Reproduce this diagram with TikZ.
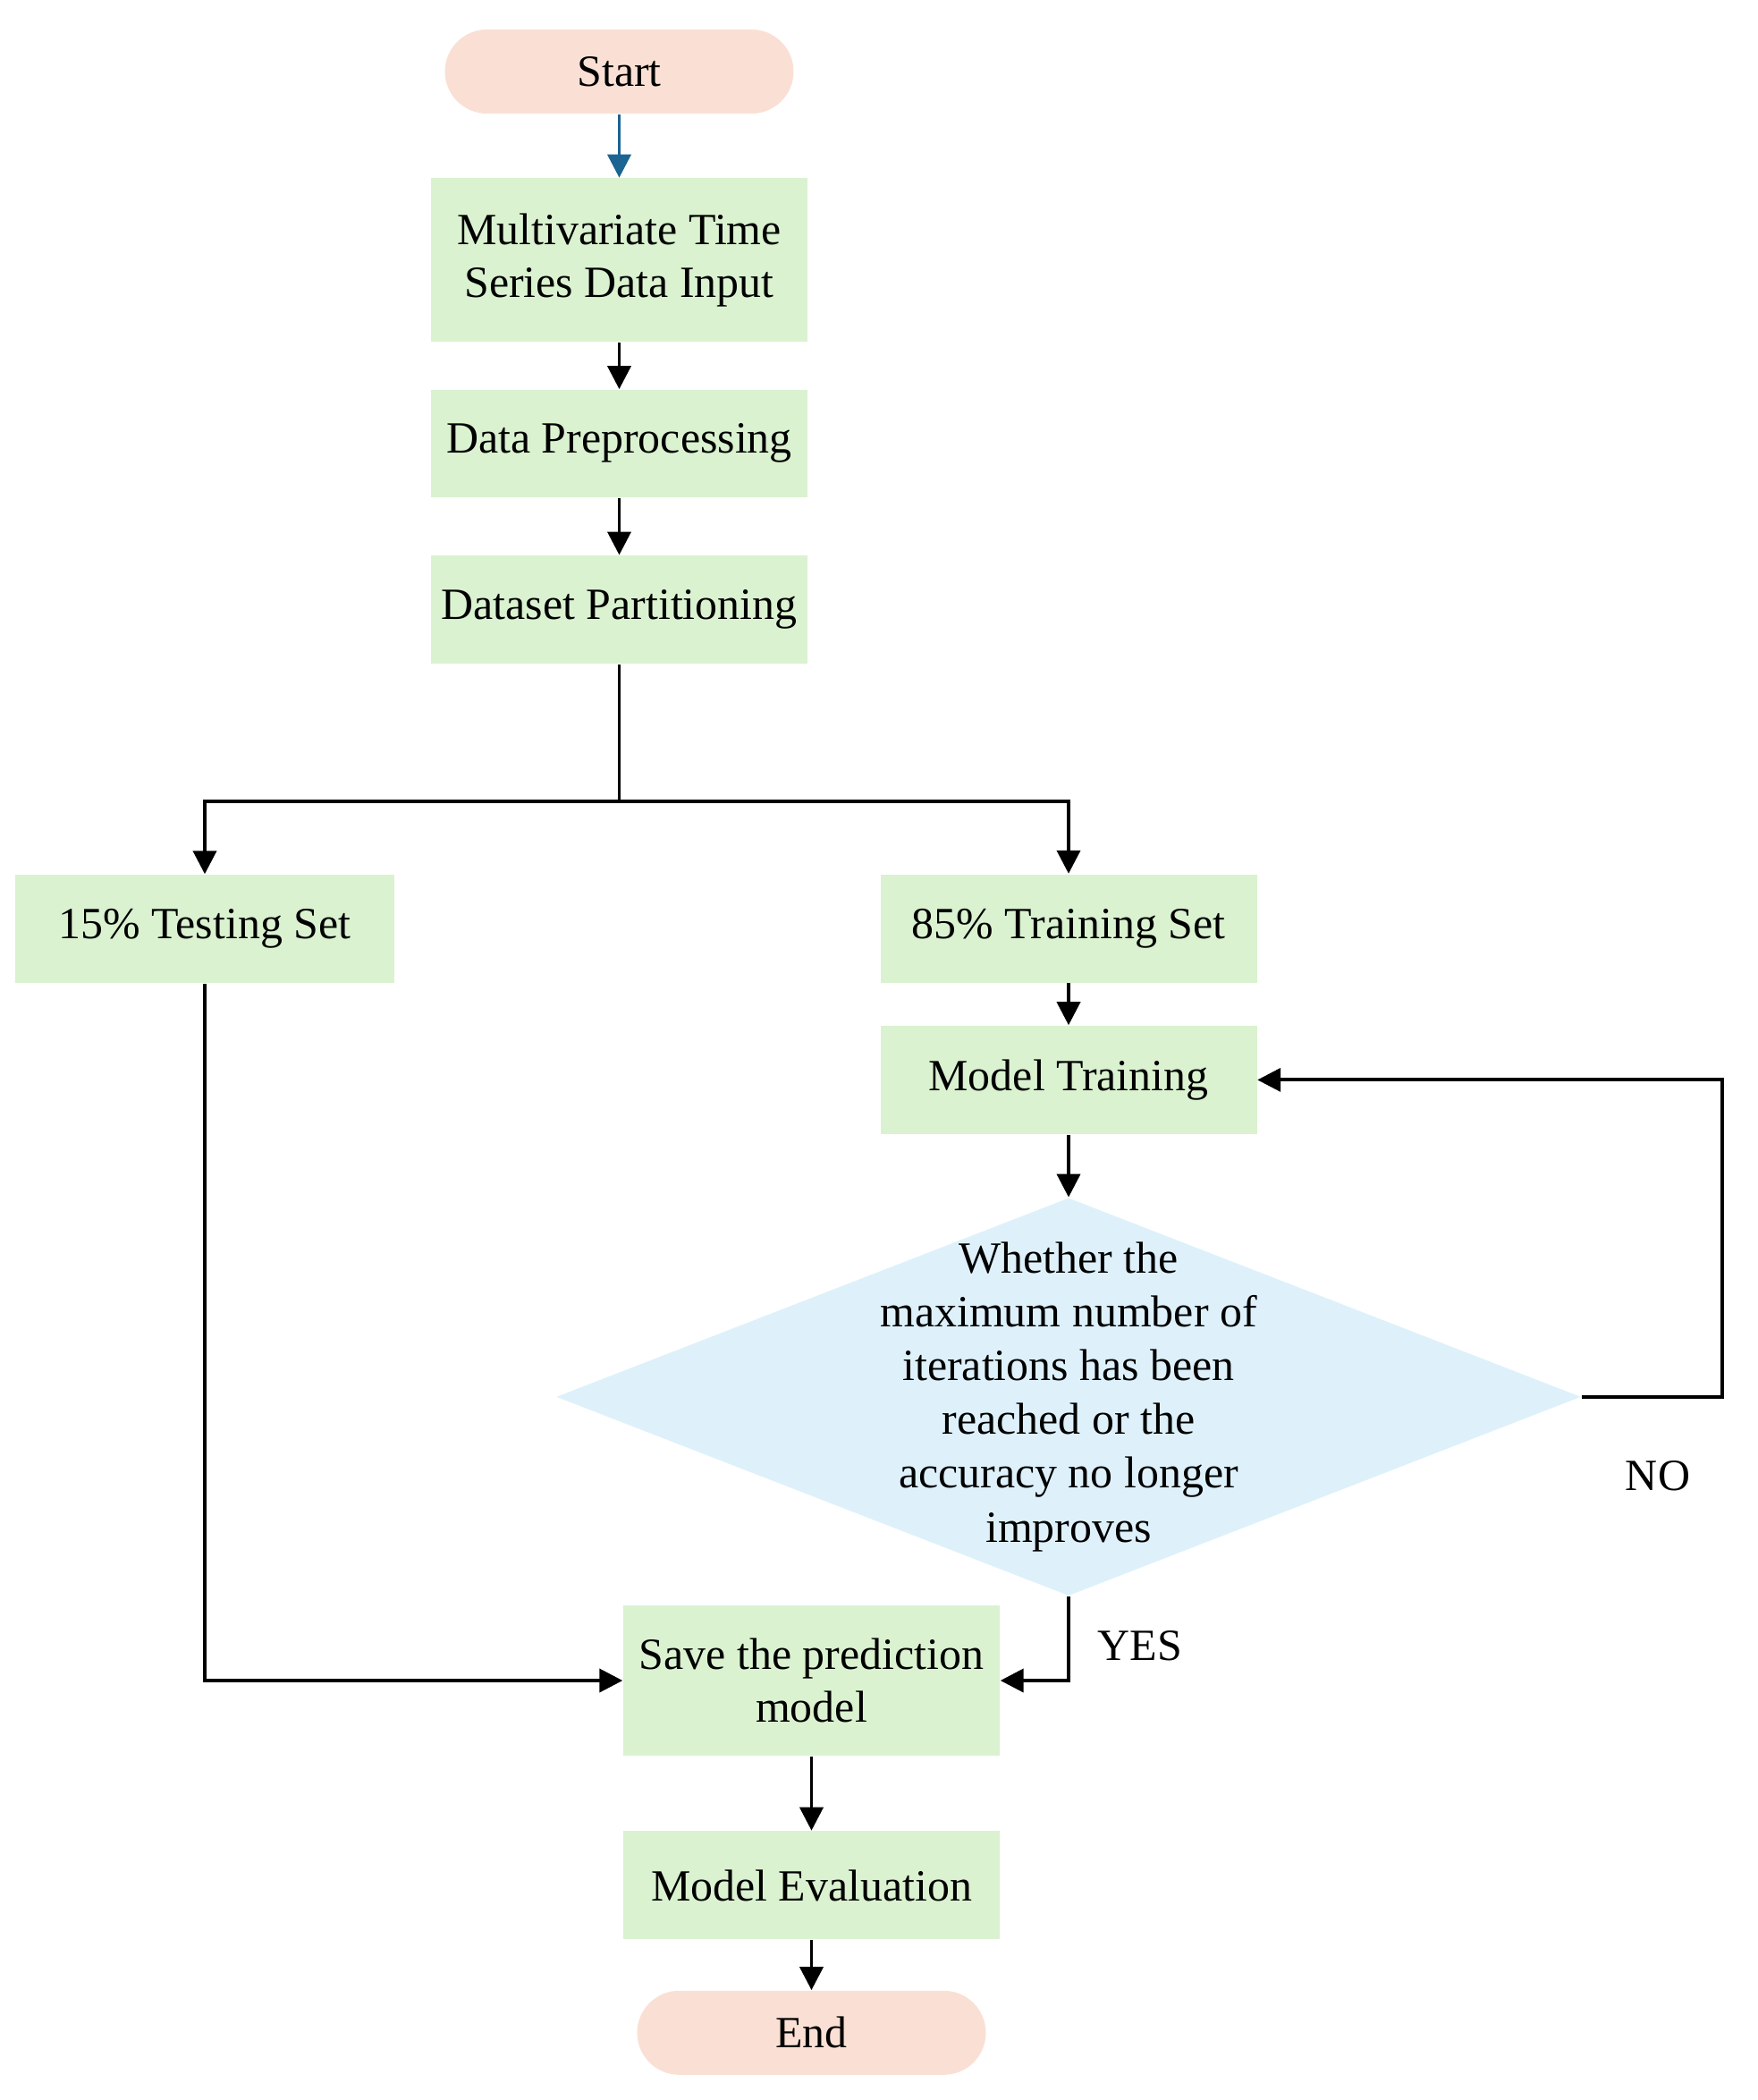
\documentclass[tikz,border=0pt]{standalone}
\usepackage{fontspec}
\setmainfont{Liberation Serif}
\usepackage{tikz}
\usetikzlibrary{shapes.geometric, arrows.meta, positioning}

\definecolor{boxgreen}{RGB}{218,242,208}
\definecolor{endpink}{RGB}{250,224,212}
\definecolor{askblue}{RGB}{222,241,251}
\definecolor{linkblue}{RGB}{28,100,145}

\begin{document}
\begin{tikzpicture}[txt/.style={font=\fontsize{14.2}{16.6}\selectfont}, box/.style={rectangle, fill=boxgreen, minimum width=4.21cm, minimum height=1.21cm, align=center, inner sep=0pt, txt}, term/.style={rectangle, rounded corners=0.47cm, fill=endpink, minimum width=3.9cm, minimum height=0.94cm, inner sep=0pt, txt}, ask/.style={diamond, fill=askblue, minimum width=11.46cm, minimum height=4.45cm, aspect=2.58, inner sep=-0.4cm, align=center, font=\fontsize{14.2}{17.1}\selectfont}, arrow/.style={-{Triangle[length=0.26cm, width=0.26cm]}, line width=1.1pt}, link/.style={line width=1.1pt}]
\useasboundingbox (0,0) rectangle (19.65,-23.48);
\node[term] (start) at (6.925,-0.80) {Start};
\node[box, minimum height=1.83cm, below=0.71cm of start] (input) {Multivariate Time\\Series Data Input};
\node[box, minimum height=1.20cm, below=0.52cm of input] (prep) {Data Preprocessing};
\node[box, below=0.64cm of prep] (part) {Dataset Partitioning};
\coordinate[below=1.53cm of part] (split);
\node[box, minimum width=4.24cm] (test) at (2.29,-10.385) {15\% Testing Set};
\node[box] (train) at (11.95,-10.38) {85\% Training Set};
\node[box, below=0.47cm of train] (mtrain) {Model Training};
\node[ask, below=0.70cm of mtrain] (decide) {Whether the\\maximum number of\\iterations has been\\reached or the\\accuracy no longer\\improves};
\node[box, minimum height=1.68cm] (save) at (9.075,-18.79) {Save the prediction\\model};
\node[box, below=0.83cm of save] (eval) {Model Evaluation};
\node[term, below=0.56cm of eval] (end) {End};
\node[txt] (no) at (18.54,-16.50) {NO};
\node[txt] (yes) at (12.75,-18.40) {YES};
\draw[arrow, linkblue] (start) -- (input);
\draw[arrow] (input) -- (prep); \draw[arrow] (prep) -- (part);
\draw[link] (part) -- (split);
\draw[arrow] (split) -| (test); \draw[arrow] (split) -| (train);
\draw[arrow] (train) -- (mtrain); \draw[arrow] (mtrain) -- (decide);
\draw[arrow] (decide.east) -- ++(1.57,0) |- (mtrain.east);
\draw[arrow] (decide.south) |- (save.east);
\draw[arrow] (test) |- (save.west);
\draw[arrow] (save) -- (eval); \draw[arrow] (eval) -- (end);
\end{tikzpicture}
\end{document}
